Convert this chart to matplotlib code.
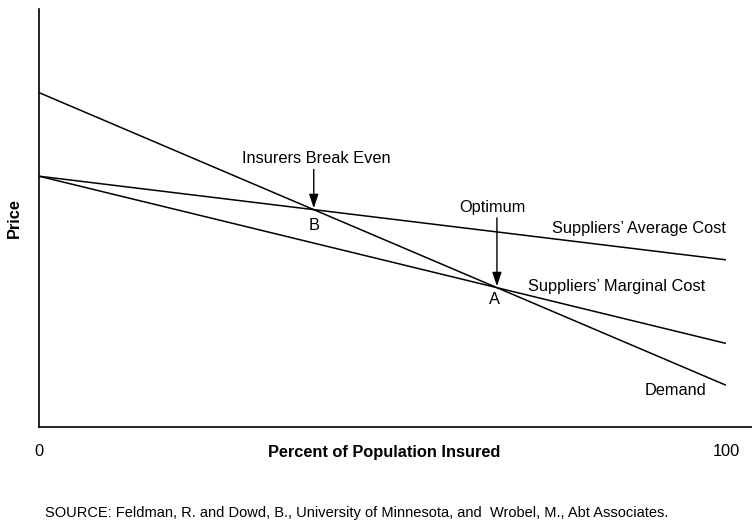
import numpy as np
import matplotlib.pyplot as plt

plt.rcParams['font.family'] = ['Liberation Sans', 'DejaVu Sans']

# percent insured (endpoints) and price levels
x = [0, 100]
demand = [80, 10]
avg_cost = [60, 40]
marg_cost = [60, 20]

xticks = [0, 100]
xtick_labels = ['0', '100']

W, H = 752, 526
fs = 11.8
fig = plt.figure(figsize=(W / 100, H / 100), dpi=100)
ax = fig.add_axes([39 / W, (H - 427) / H, 1 - 39 / W, (427 - 9) / H])

for series in (demand, avg_cost, marg_cost):
    ax.plot(x, series, color='black', lw=1.1, solid_capstyle='butt')

ax.set_xlim(0, 103.8)
ax.set_ylim(0, 100)
ax.spines['top'].set_visible(False)
ax.spines['right'].set_visible(False)
for s in ('left', 'bottom'):
    ax.spines[s].set_linewidth(1.2)

ax.set_xticks(xticks)
ax.set_xticklabels(xtick_labels, fontsize=fs)
ax.tick_params(axis='x', length=0, pad=12)
ax.set_yticks([])

ax.set_xlabel('Percent of Population Insured', fontsize=fs, fontweight='bold')
ax.xaxis.set_label_coords(345 / (W - 39), -18 / 418)
ax.set_ylabel('Price', fontsize=fs, fontweight='bold')
ax.yaxis.set_label_coords(-17 / (W - 39), 0.5)

# intersection points
xb = (demand[0] - avg_cost[0]) / ((demand[0] - demand[1]) / 100 - (avg_cost[0] - avg_cost[1]) / 100)
yb = demand[0] - (demand[0] - demand[1]) / 100 * xb
xa = (demand[0] - marg_cost[0]) / ((demand[0] - demand[1]) / 100 - (marg_cost[0] - marg_cost[1]) / 100)
ya = demand[0] - (demand[0] - demand[1]) / 100 * xa

arrow = dict(arrowstyle='-|>,head_length=0.6,head_width=0.2', color='black', lw=1.0,
             mutation_scale=14, shrinkA=0, shrinkB=1)
ax.annotate('', xy=(xb, yb), xytext=(xb, yb + 9.6), arrowprops=arrow)
ax.text(xb + 0.3, yb + 10.5, 'Insurers Break Even', ha='center', va='bottom', fontsize=fs)
ax.text(xb, yb - 2.0, 'B', ha='center', va='top', fontsize=fs)

ax.annotate('', xy=(xa, ya), xytext=(xa, ya + 16.7), arrowprops=arrow)
ax.text(xa - 0.6, ya + 17.5, 'Optimum', ha='center', va='bottom', fontsize=fs)
ax.text(xa - 0.4, ya - 1.0, 'A', ha='center', va='top', fontsize=fs)

ax.text(74.7, 47.6, 'Suppliers\u2019 Average Cost', ha='left', va='center', fontsize=fs)
ax.text(71.2, 33.7, 'Suppliers\u2019 Marginal Cost', ha='left', va='center', fontsize=fs)
ax.text(97.2, 8.7, 'Demand', ha='right', va='center', fontsize=fs)

fig.text(45 / W, 1 - 513 / H, 'SOURCE: Feldman, R. and Dowd, B., University of Minnesota, and  Wrobel, M., Abt Associates.',
         ha='left', va='center', fontsize=10.5)

fig.savefig('out.png', dpi=100)
